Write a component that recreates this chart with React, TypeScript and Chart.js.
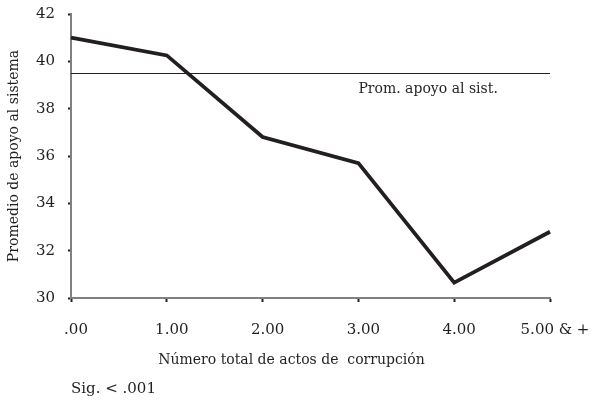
import React, { useEffect, useRef } from "react";
import { Chart, registerables } from "chart.js";

Chart.register(...registerables);

const categories = [".00", "1.00", "2.00", "3.00", "4.00", "5.00 & +"];
const promedioApoyo = [41.0, 40.25, 36.8, 35.7, 30.65, 32.8];
const promedioGeneral = 39.5;
const promedioLabel = "Prom. apoyo al sist.";
const yTitle = "Promedio de apoyo al sistema";
const xTitle = "Número total de actos de  corrupción";
const sigNote = "Sig. < .001";
const yMin = 30;
const yMax = 42;
const yStep = 2;

const FONT = "'DejaVu Serif', serif";
const INK = "#231f20";

const overlayPlugin = {
  id: "overlay",
  beforeDatasetsDraw(chart: any) {
    const { ctx, chartArea, scales } = chart;
    const y = Math.round(scales.y.getPixelForValue(promedioGeneral)) + 0.5;
    ctx.save();
    ctx.strokeStyle = INK;
    ctx.lineWidth = 1;
    ctx.beginPath();
    ctx.moveTo(chartArea.left, y);
    ctx.lineTo(chartArea.right, y);
    ctx.stroke();
    ctx.restore();
  },
  afterDraw(chart: any) {
    const { ctx, chartArea, scales } = chart;
    ctx.save();
    ctx.fillStyle = INK;
    ctx.font = "14px " + FONT;
    ctx.textBaseline = "middle";
    ctx.textAlign = "left";
    const y = scales.y.getPixelForValue(promedioGeneral);
    ctx.fillText(promedioLabel, scales.x.getPixelForValue(3), y + 16);
    ctx.font = "14px " + FONT;
    ctx.textAlign = "center";
    ctx.fillText(xTitle, (chartArea.left + chartArea.right) / 2 - 19, 360);
    ctx.textAlign = "left";
    ctx.font = "15px " + FONT;
    ctx.fillText(sigNote, chartArea.left, 389);
    ctx.restore();
  },
};

export default function App() {
  const ref = useRef<HTMLCanvasElement | null>(null);
  useEffect(() => {
    if (!ref.current) return;
    const chart = new Chart(ref.current, {
      type: "line",
      data: {
        labels: categories,
        datasets: [
          {
            data: promedioApoyo,
            borderColor: INK,
            borderWidth: 3.8,
            pointRadius: 0,
            tension: 0,
            fill: false,
            clip: false,
          },
        ],
      },
      options: {
        animation: false,
        responsive: false,
        maintainAspectRatio: false,
        layout: { padding: { top: 14, right: 44, left: 0, bottom: 0 } },
        plugins: { legend: { display: false }, tooltip: { enabled: false } },
        scales: {
          x: {
            offset: false,
            grid: {
              offset: false,
              drawOnChartArea: false,
              drawTicks: true,
              tickLength: 4,
              tickColor: INK,
              tickWidth: 2,
            },
            border: { color: "#808080", width: 2 },
            ticks: {
              color: INK,
              font: { family: FONT, size: 15 },
              padding: 19,
              labelOffset: 5,
              maxRotation: 0,
              autoSkip: false,
            },
            afterFit(scale: any) {
              scale.height = 105;
              scale.paddingLeft = 0;
              scale.paddingRight = 0;
            },
          },
          y: {
            min: yMin,
            max: yMax,
            grid: {
              drawOnChartArea: false,
              drawTicks: true,
              tickLength: 3,
              tickColor: INK,
              tickWidth: 2,
            },
            border: { color: "#808080", width: 2 },
            ticks: {
              stepSize: yStep,
              color: INK,
              font: { family: FONT, size: 15 },
              padding: 13,
            },
            title: {
              display: true,
              text: yTitle,
              color: INK,
              font: { family: FONT, size: 14 },
              padding: { top: 6, bottom: 0 },
            },
            afterFit(scale: any) {
              scale.width = 71;
              scale.paddingTop = 0;
              scale.paddingBottom = 0;
            },
          },
        },
      },
      plugins: [overlayPlugin],
    });
    return () => chart.destroy();
  }, []);
  return (
    <div style={{ position: "fixed", left: 0, top: 0, width: 594, height: 403, background: "#fff" }}>
      <canvas ref={ref} width={594} height={403} style={{ width: 594, height: 403 }} />
    </div>
  );
}
